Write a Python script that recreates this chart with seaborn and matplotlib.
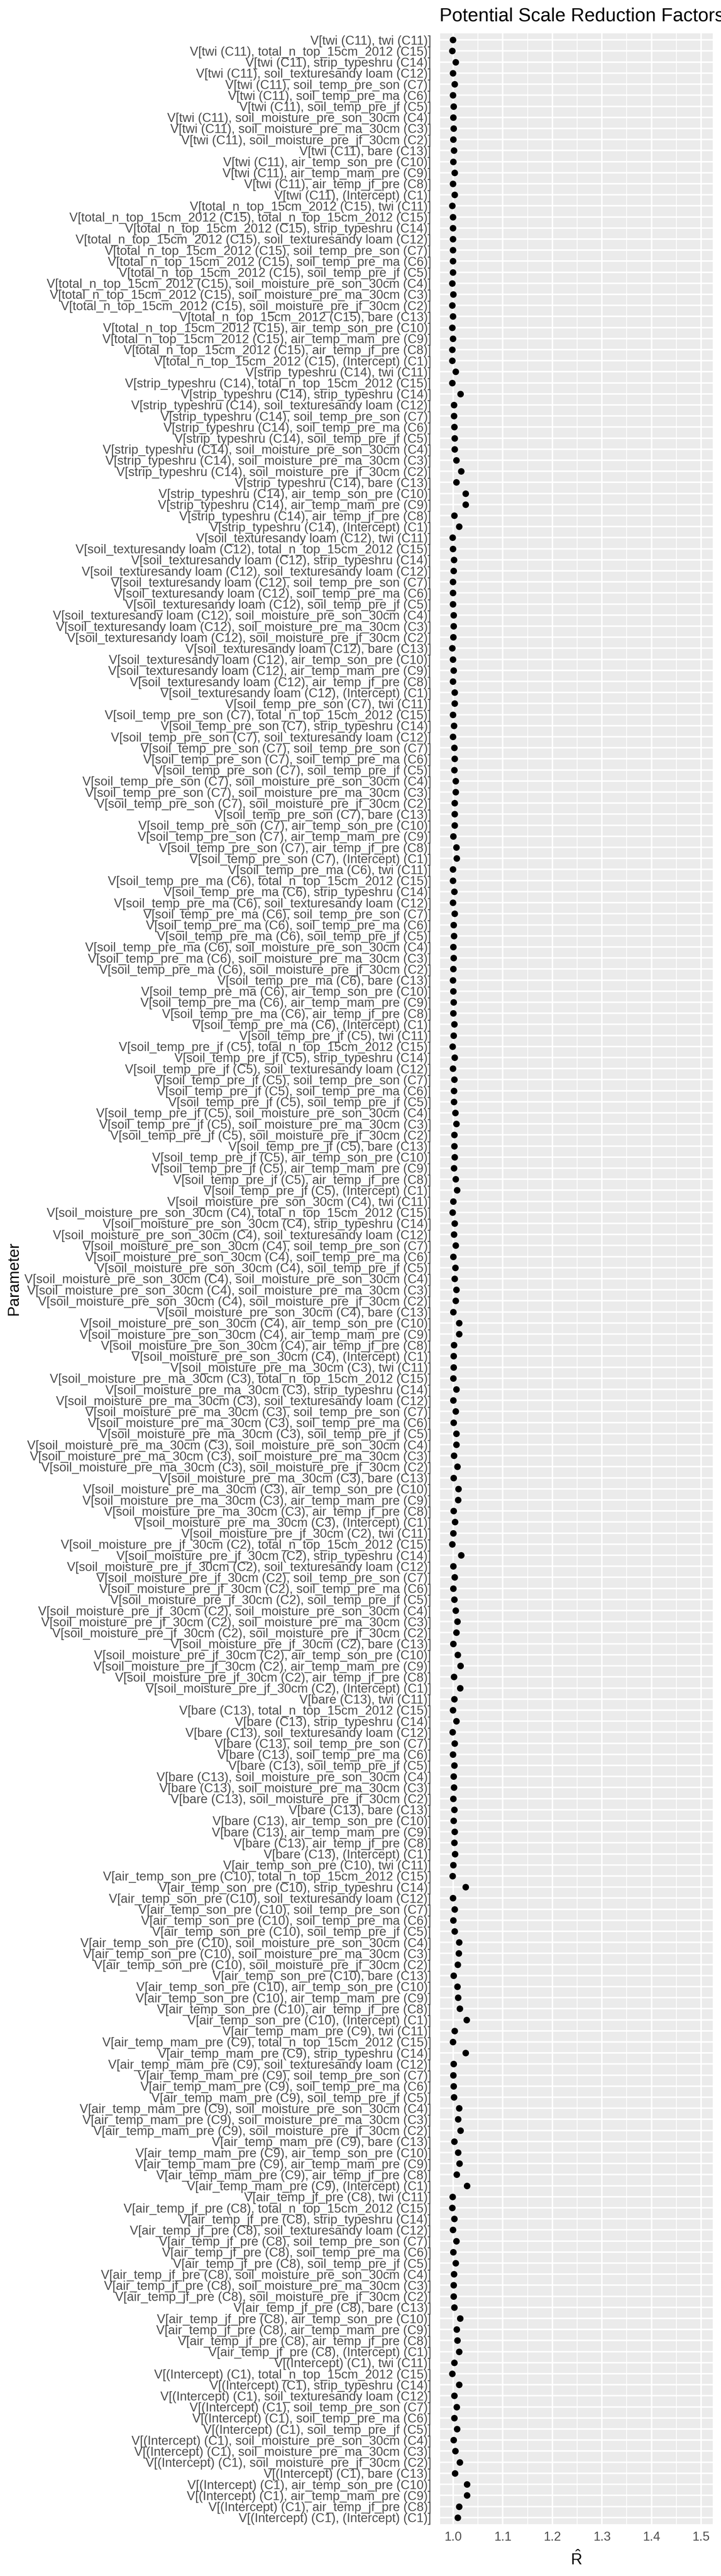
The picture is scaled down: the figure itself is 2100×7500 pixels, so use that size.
import matplotlib
matplotlib.use('Agg')
import matplotlib.pyplot as plt
import pandas as pd
import seaborn as sns

# covariates as they appear from the top of the chart down, with their codes
covariates = ['twi', 'total_n_top_15cm_2012', 'strip_typeshru', 'soil_texturesandy loam',
              'soil_temp_pre_son', 'soil_temp_pre_ma', 'soil_temp_pre_jf',
              'soil_moisture_pre_son_30cm', 'soil_moisture_pre_ma_30cm',
              'soil_moisture_pre_jf_30cm', 'bare', 'air_temp_son_pre',
              'air_temp_mam_pre', 'air_temp_jf_pre', '(Intercept)']
codes = ['C11', 'C15', 'C14', 'C12', 'C7', 'C6', 'C5', 'C4', 'C3', 'C2',
         'C13', 'C10', 'C9', 'C8', 'C1']

# R-hat per block V[row covariate, *], second covariate in the order above
rhat_twi = [0.999, 0.998, 1.005, 0.999, 1.0025, 0.9995, 1.0005, 1.000, 1.0005, 1.000,
            1.0016, 1.000, 1.003, 0.999, 1.0025]
rhat_total_n = [0.998, 0.999, 0.999, 0.999, 0.999, 0.999, 0.999, 0.998, 1.000, 0.998,
                0.999, 0.998, 0.999, 0.998, 0.998]
rhat_strip = [1.005, 0.998, 1.0145, 1.0016, 1.0016, 1.002, 1.003, 1.003, 1.006, 1.0157,
              1.006, 1.025, 1.025, 1.002, 1.012]
rhat_sandy_loam = [0.9986, 0.999, 1.0016, 1.001, 0.999, 0.999, 0.9995, 1.001, 1.0005, 1.000,
                   0.998, 0.999, 1.001, 0.999, 1.0025]
rhat_soil_temp_son = [1.0025, 0.999, 1.0016, 0.999, 1.002, 1.003, 1.002, 1.005, 1.005, 1.0025,
                      1.0025, 1.0025, 1.000, 1.006, 1.007]
rhat_soil_temp_ma = [0.9995, 0.9995, 1.002, 0.999, 1.003, 1.0007, 1.0016, 1.000, 1.0007, 1.000,
                     0.999, 1.000, 1.001, 1.000, 1.002]
rhat_soil_temp_jf = [1.0005, 0.9986, 1.003, 0.9995, 1.002, 1.0016, 1.0016, 1.004, 1.006, 1.002,
                     1.002, 1.003, 1.0014, 1.005, 1.0074]
rhat_moist_son = [0.9998, 0.9986, 1.003, 1.0014, 1.005, 1.000, 1.004, 1.0025, 1.006, 1.005,
                  1.000, 1.012, 1.0115, 1.0014, 1.001]
rhat_moist_ma = [1.0005, 1.000, 1.006, 1.000, 1.005, 1.0007, 1.006, 1.006, 1.0014, 1.008,
                 1.001, 1.0106, 1.0097, 1.001, 1.0037]
rhat_moist_jf = [1.000, 0.998, 1.0157, 1.000, 1.003, 1.000, 1.002, 1.005, 1.008, 1.006,
                 1.000, 1.0088, 1.0148, 1.0014, 1.0136]
rhat_bare = [1.002, 0.999, 1.006, 0.9986, 1.003, 0.999, 1.002, 1.0005, 1.0014, 1.000,
             1.002, 1.001, 1.0025, 1.002, 1.0035]
rhat_air_son = [1.000, 0.9986, 1.025, 0.9995, 1.0025, 1.000, 1.003, 1.012, 1.011, 1.0088,
                1.001, 1.008, 1.010, 1.0134, 1.027]
rhat_air_mam = [1.003, 0.9995, 1.025, 1.001, 1.000, 1.001, 1.0014, 1.0115, 1.0097, 1.0148,
                1.002, 1.010, 1.0125, 1.0067, 1.028]
rhat_air_jf = [0.9989, 0.998, 1.002, 0.999, 1.006, 1.000, 1.005, 1.0014, 1.001, 1.001,
               1.002, 1.0136, 1.007, 1.008, 1.012]
rhat_intercept = [1.002, 0.998, 1.012, 1.0022, 1.007, 1.0022, 1.0075, 1.0009, 1.004, 1.0133,
                  1.0035, 1.0274, 1.028, 1.0119, 1.0089]

x_ticks = [1.0, 1.1, 1.2, 1.3, 1.4, 1.5]


def main():

    df = get_data()
    dotplot(df, 'out.png')


def get_data():

    blocks = [rhat_twi, rhat_total_n, rhat_strip, rhat_sandy_loam, rhat_soil_temp_son,
              rhat_soil_temp_ma, rhat_soil_temp_jf, rhat_moist_son, rhat_moist_ma,
              rhat_moist_jf, rhat_bare, rhat_air_son, rhat_air_mam, rhat_air_jf,
              rhat_intercept]

    df = {'Parameter': [], 'Rhat': []}
    for a, ca, values in zip(covariates, codes, blocks):
        for b, cb, v in zip(covariates, codes, values):
            df['Parameter'].append('V[%s (%s), %s (%s)]' % (a, ca, b, cb))
            df['Rhat'].append(v)

    return pd.DataFrame(df)


def dotplot(df, file):

    sns.set_style('darkgrid', {'axes.facecolor': '#EBEBEB', 'grid.color': 'white'})
    plt.rcParams['font.family'] = ['Liberation Sans', 'DejaVu Sans']
    plt.rcParams['mathtext.fontset'] = 'custom'
    plt.rcParams['mathtext.rm'] = 'Liberation Sans'
    plt.rcParams['mathtext.it'] = 'Liberation Sans:italic'

    fig = plt.figure(figsize=(7, 25), dpi=300)
    ax = fig.add_axes([0.6105, 0.02013, 0.3781, 0.96694])

    order = list(df['Parameter'])
    sns.stripplot(x='Rhat', y='Parameter', data=df, order=order, jitter=False,
                  size=4.6, color='black', linewidth=0, ax=ax)

    ax.set_ylim(len(order) - 1 + 0.6, -0.6)
    ax.set_xlim(0.9737, 1.5235)
    ax.set_xticks(x_ticks)
    ax.set_xticklabels(['%.1f' % t for t in x_ticks])
    ax.set_xticks([1.05, 1.15, 1.25, 1.35, 1.45], minor=True)

    ax.set_axisbelow(True)
    ax.grid(True, which='major', color='white', linewidth=1.07)
    ax.grid(True, which='minor', axis='x', color='white', linewidth=0.53)
    ax.yaxis.grid(True, which='major', color='white', linewidth=1.07)
    for s in ax.spines.values():
        s.set_visible(False)

    ax.tick_params(axis='both', which='major', length=2.75, width=1.07, color='#333333',
                   labelsize=8.8, labelcolor='#4D4D4D')
    ax.tick_params(axis='x', which='major', pad=2.2)
    ax.tick_params(axis='y', which='major', pad=3.5)
    ax.tick_params(axis='x', which='minor', length=0)

    ax.set_xlabel('')
    ax.set_ylabel('')
    fig.text(0.7995, 1 - 7467 / 7500, r'$\hat{\mathrm{R}}$', ha='center', va='baseline',
             fontsize=11, color='black')
    fig.text(40 / 2100, 0.5036, 'Parameter', rotation=90, ha='center', va='center',
             fontsize=11, color='black')
    fig.text(1280 / 2100, 1 - 62 / 7500, 'Potential Scale Reduction Factors', ha='left',
             va='baseline', fontsize=13.2, color='black')

    plt.savefig(file, dpi=300)
    plt.close()


if __name__ == '__main__':
    main()
